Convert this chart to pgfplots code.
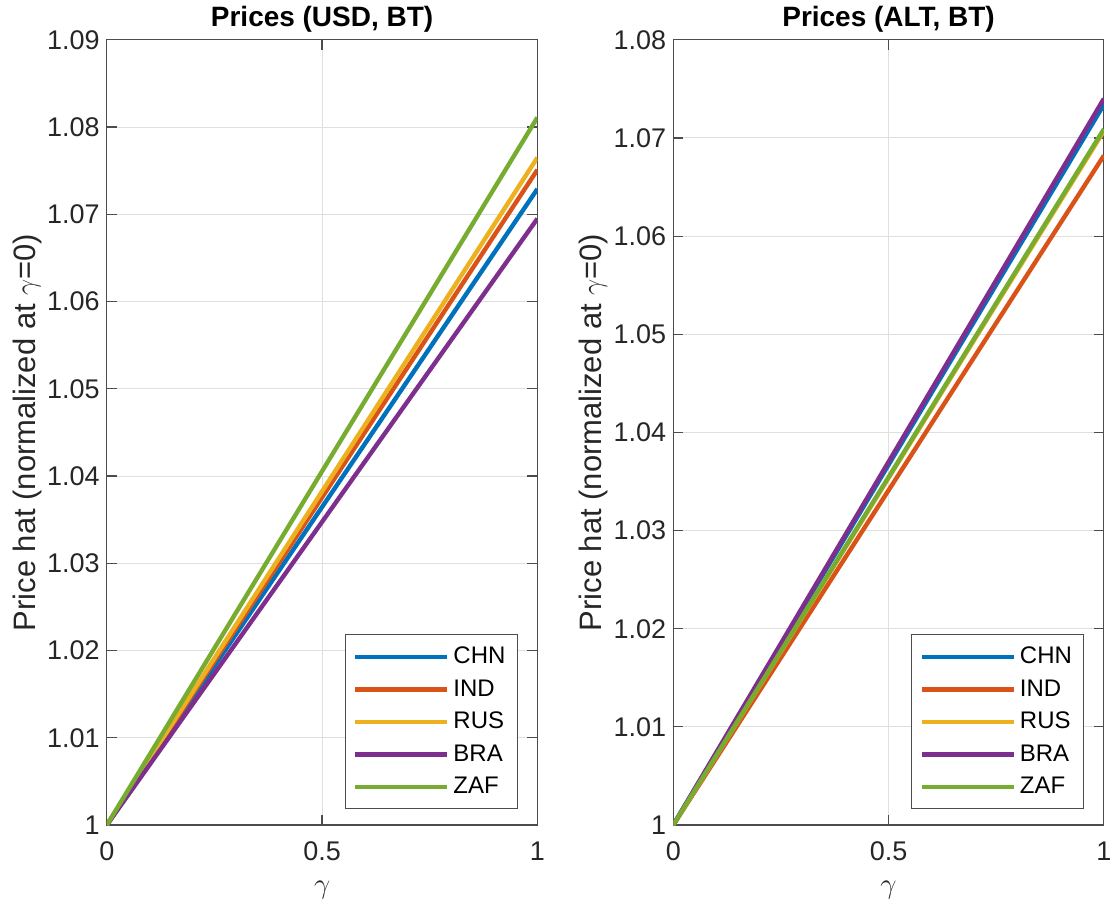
\documentclass[border={3pt 0pt 0pt 0pt}]{standalone}
\usepackage{fontspec}
\setmainfont{Liberation Sans}
\usepackage{pgfplots}
\pgfplotsset{compat=1.18}

\definecolor{c1}{rgb}{0,0.447,0.741}
\definecolor{c2}{rgb}{0.850,0.325,0.098}
\definecolor{c3}{rgb}{0.929,0.694,0.125}
\definecolor{c4}{rgb}{0.494,0.184,0.556}
\definecolor{c5}{rgb}{0.466,0.674,0.188}

\pgfplotsset{
  priceax/.style={
    width=215.5pt, height=393pt, scale only axis,
    xmin=0, xmax=1, xtick={0,0.5,1},
    xticklabels={0,0.5,1},
    grid=major,
    major grid style={line width=0.5pt, gray!25},
    axis line style={line width=0.6pt, black!70},
    tick style={line width=0.6pt, black!70},
    tick align=inside,
    major tick length=5pt,
    /pgf/number format/assume math mode=true,
    tick label style={font=\fontsize{13.5}{16}\selectfont, text=black!85},
    xticklabel style={yshift=-5pt},
    label style={font=\fontsize{15.5}{18}\selectfont, text=black!85},
    xlabel style={yshift=-3pt},
    ylabel style={yshift=-4pt},
    title style={font=\bfseries\fontsize{14}{16}\selectfont, yshift=-6pt},
    xlabel={$\gamma$},
    ylabel={Price hat (normalized at $\gamma$=0)},
    yticklabel style={/pgf/number format/fixed, /pgf/number format/precision=2},
    legend style={at={(0.955,0.02)}, anchor=south east,
      font=\fontsize{12}{14.5}\selectfont, draw=black!70, line width=0.6pt,
      row sep=2.5pt, inner sep=4pt},
    legend cell align=left,
    legend image code/.code={\draw[#1, line width=2.2pt] (0pt,0pt) -- (46pt,0pt);},
    every axis plot/.append style={line width=2.2pt},
  }
}

\begin{document}
\begin{tikzpicture}
\begin{axis}[priceax, name=L,
  title={Prices (USD, BT)},
  ymin=1, ymax=1.09,
  ytick={1,1.01,1.02,1.03,1.04,1.05,1.06,1.07,1.08,1.09},
  yticklabels={1,1.01,1.02,1.03,1.04,1.05,1.06,1.07,1.08,1.09}]
\addplot[c1] coordinates {(0,1) (1,1.0729)};
\addplot[c2] coordinates {(0,1) (1,1.0751)};
\addplot[c3] coordinates {(0,1) (1,1.0765)};
\addplot[c4] coordinates {(0,1) (1,1.0695)};
\addplot[c5] coordinates {(0,1) (1,1.0811)};
\legend{CHN,IND,RUS,BRA,ZAF}
\end{axis}
\begin{axis}[priceax, at={(283.5pt,0)},
  title={Prices (ALT, BT)},
  ymin=1, ymax=1.08,
  ytick={1,1.01,1.02,1.03,1.04,1.05,1.06,1.07,1.08},
  yticklabels={1,1.01,1.02,1.03,1.04,1.05,1.06,1.07,1.08}]
\addplot[c1] coordinates {(0,1) (1,1.0734)};
\addplot[c2] coordinates {(0,1) (1,1.0682)};
\addplot[c3] coordinates {(0,1) (1,1.0707)};
\addplot[c4] coordinates {(0,1) (1,1.0740)};
\addplot[c5] coordinates {(0,1) (1,1.0709)};
\legend{CHN,IND,RUS,BRA,ZAF}
\end{axis}
\end{tikzpicture}
\end{document}
